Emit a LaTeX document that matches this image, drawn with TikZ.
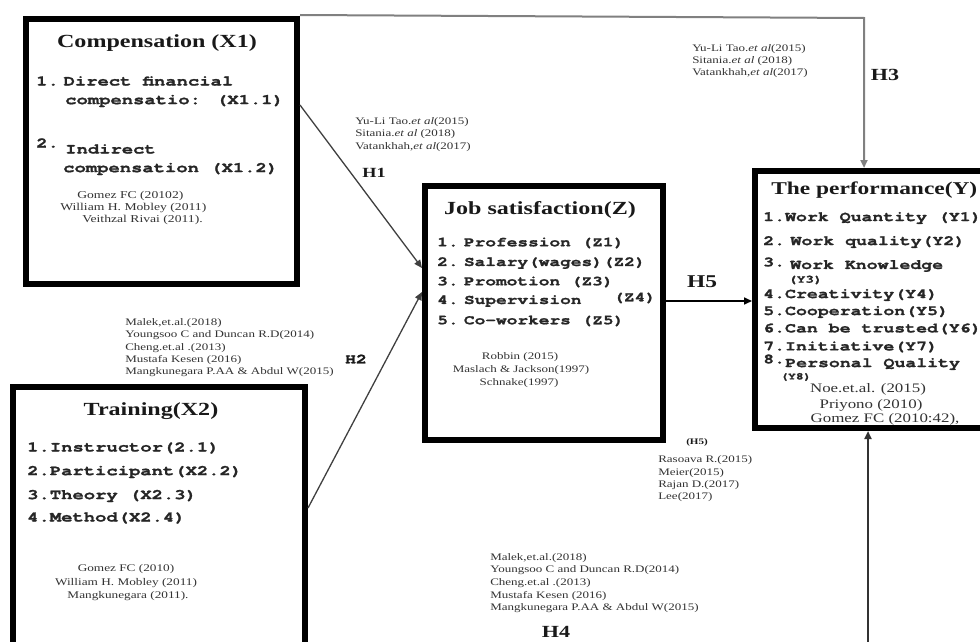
\documentclass[tikz,border=0pt]{standalone}
\usepackage{fontspec}
\setmainfont{Liberation Serif}
\newfontfamily\monofam{texgyrecursor}[Extension=.otf, UprightFont=*-regular, BoldFont=*-bold, BoldFeatures={FakeBold=1.2}]
\usetikzlibrary{arrows.meta}
\begin{document}
\begin{tikzpicture}[x=1pt,y=-1pt,
  boxnode/.style={draw=black, line width=6pt, inner sep=0pt},
  ttl/.style={font=\bfseries\fontsize{18.5}{20}\selectfont, xscale=1.3, inner sep=0pt, text=black!90},
  itm/.style={font=\monofam\bfseries\fontsize{14.5}{16}\selectfont, xscale=1.3, inner sep=0pt, anchor=west, text=black!85},
  itmj/.style={itm, font=\monofam\bfseries\fontsize{13.7}{15}\selectfont},
  itmp/.style={itm, font=\monofam\bfseries\fontsize{14}{15}\selectfont},
  cit/.style={font=\fontsize{10}{12}\selectfont, xscale=1.3, inner sep=0pt, anchor=west, text=black!80},
  citc/.style={cit, anchor=center},
  citp/.style={citc, font=\fontsize{13}{15}\selectfont},
  hlab/.style={font=\bfseries\fontsize{17}{19}\selectfont, xscale=1.3, inner sep=0pt, text=black!90},
  conn/.style={line width=1.3pt, draw=black!75, -{Triangle[length=8pt,width=7pt]}},
]
\useasboundingbox (0,0) rectangle (980,642);
\clip (0,0) rectangle (980,642);
\fill[white] (0,0) rectangle (980,642);

% ---------- boxes ----------
\node[boxnode, minimum width=271pt, minimum height=265pt] (comp) at (161.5,151.5) {};
\node[boxnode, minimum width=238pt, minimum height=254pt] (job) at (544,313) {};
\node[boxnode, minimum width=260pt, minimum height=257pt] (perf) at (885,299.5) {};
\node[boxnode, minimum width=292pt, minimum height=273pt] (train) at (159,523.5) {};

% ---------- Compensation ----------
\node[ttl] (compT) at (157,43) {Compensation (X1)};
\node[itm] (c11) at (36,81) {1.\kern0.25em Direct financial};
\node[itm] (c12) at (65,101) {compensatio: (X1.1)};
\node[itm] (c2n) at (36,143) {2.};
\node[itm] (c21) at (65,149) {Indirect};
\node[itm] (c22) at (63,169) {compensation (X1.2)};
\node[cit, font=\fontsize{10.5}{12}\selectfont] (cr1) at (77,196) {Gomez FC (20102)};
\node[cit, font=\fontsize{10.5}{12}\selectfont] (cr2) at (60,208) {William H. Mobley (2011)};
\node[cit, font=\fontsize{10.5}{12}\selectfont] (cr3) at (82,220) {Veithzal Rivai (2011).};

% ---------- Training ----------
\node[ttl] (trT) at (151,411) {Training(X2)};
\node[itm] (t1) at (27,448) {1.Instructor(2.1)};
\node[itm] (t2) at (27,472) {2.Participant(X2.2)};
\node[itm] (t3) at (27,496) {3.Theory (X2.3)};
\node[itm] (t4) at (27,518) {4.Method(X2.4)};
\node[citc, font=\fontsize{10.2}{12}\selectfont] (tr1) at (126,569) {Gomez FC (2010)};
\node[citc, font=\fontsize{10.2}{12}\selectfont] (tr2) at (126,583) {William H. Mobley (2011)};
\node[citc, font=\fontsize{10.2}{12}\selectfont] (tr3) at (128,596) {Mangkunegara (2011).};

% ---------- Job satisfaction ----------
\node[ttl] (jobT) at (540,210) {Job satisfaction(Z)};
\node[itmj] (z1) at (437,243) {1.\kern0.3em Profession (Z1)};
\node[itmj] (z2) at (437,263) {2.\kern0.3em Salary(wages)(Z2)};
\node[itmj] (z3) at (437,282) {3.\kern0.3em Promotion  (Z3)};
\node[itmj] (z4) at (437,301) {4.\kern0.3em Supervision};
\node[itmj] (z4b) at (613,298) {(Z4)};
\node[itmj] (z5) at (437,321) {5.\kern0.3em Co-workers (Z5)};
\node[citc] (jr1) at (520,357) {Robbin (2015)};
\node[citc] (jr2) at (521,370) {Maslach \& Jackson(1997)};
\node[citc] (jr3) at (519,383) {Schnake(1997)};

% ---------- Performance ----------
\node[ttl, anchor=west, font=\bfseries\fontsize{18}{20}\selectfont] (perfT) at (771,190) {The performance(Y)};
\node[itmp] (y1) at (763,218) {1.Work Quantity (Y1)};
\node[itmp] (y2) at (763,242) {2.\kern0.3em Work quality(Y2)};
\node[itmp] (y3n) at (763,262) {3.};
\node[itmp] (y3) at (790,266) {Work Knowledge};
\node[itmp, font=\monofam\bfseries\fontsize{11}{12}\selectfont] (y3b) at (788,280) {(Y3)};
\node[itmp] (y4) at (763,295) {4.Creativity(Y4)};
\node[itmp] (y5) at (763,312) {5.Cooperation(Y5)};
\node[itmp] (y6) at (763,329) {6.Can be trusted(Y6)};
\node[itmp] (y7) at (763,347) {7.Initiative(Y7)};
\node[itmp] (y8n) at (763,359) {8.};
\node[itmp] (y8) at (785,364) {Personal Quality};
\node[itmp, font=\monofam\bfseries\fontsize{10}{12}\selectfont] (y8b) at (780,377) {(Y8)};
\node[citp] (pr1) at (868,389) {Noe.et.al. (2015)};
\node[citp] (pr2) at (871,405) {Priyono (2010)};
\node[citp] (pr3) at (885,419) {Gomez FC (2010:42),};

% ---------- citation groups ----------
\node[cit] (h1a) at (355,122) {Yu-Li Tao.\textit{et al}(2015)};
\node[cit] (h1b) at (355,134) {Sitania.\textit{et al} (2018)};
\node[cit] (h1c) at (355,147) {Vatankhah,\textit{et al}(2017)};

\node[cit] (h3a) at (692,49) {Yu-Li Tao.\textit{et al}(2015)};
\node[cit] (h3b) at (692,61) {Sitania.\textit{et al} (2018)};
\node[cit] (h3c) at (692,73) {Vatankhah,\textit{et al}(2017)};

\node[cit] (h2a) at (125,323) {Malek,et.al.(2018)};
\node[cit] (h2b) at (125,335) {Youngsoo C and Duncan R.D(2014)};
\node[cit] (h2c) at (125,348) {Cheng.et.al .(2013)};
\node[cit] (h2d) at (125,360) {Mustafa Kesen (2016)};
\node[cit] (h2e) at (125,372) {Mangkunegara P.AA \& Abdul W(2015)};

\node[cit] (h5a) at (658,460) {Rasoava R.(2015)};
\node[cit] (h5b) at (658,473) {Meier(2015)};
\node[cit] (h5c) at (658,485) {Rajan D.(2017)};
\node[cit] (h5d) at (658,497) {Lee(2017)};

\node[cit] (h4a) at (490,558) {Malek,et.al.(2018)};
\node[cit] (h4b) at (490,570) {Youngsoo C and Duncan R.D(2014)};
\node[cit] (h4c) at (490,583) {Cheng.et.al .(2013)};
\node[cit] (h4d) at (490,596) {Mustafa Kesen (2016)};
\node[cit] (h4e) at (490,608) {Mangkunegara P.AA \& Abdul W(2015)};

% ---------- hypothesis labels ----------
\node[hlab, font=\bfseries\fontsize{14}{16}\selectfont] (H1) at (374,173) {H1};
\node[hlab, font=\monofam\bfseries\fontsize{14}{15}\selectfont] (H2) at (356,359) {H2};
\node[hlab] (H3) at (885,75) {H3};
\node[hlab] (H4) at (556,632) {H4};
\node[hlab, font=\bfseries\fontsize{18}{20}\selectfont] (H5) at (702,282) {H5};
\node[hlab, font=\bfseries\fontsize{8.5}{10}\selectfont] (H5b) at (697,442) {(H5)};

% ---------- connectors ----------
\coordinate (h3corner) at (864,18);
\coordinate (h4foot) at (868,660);
\draw[conn, draw=black!50, line width=2pt] ([yshift=1pt]comp.north east) -- (h3corner) -- (h3corner |- perf.north);
\draw[conn] ([yshift=46.5pt]comp.east) -- ([yshift=45pt]job.west);
\draw[conn] ([yshift=15.5pt]train.east) -- ([yshift=21pt]job.west);
\draw[conn, draw=black, line width=1.6pt] ([yshift=12pt]job.east) -- ([yshift=12pt]job.east -| perf.west);
\draw[conn, draw=black!80, line width=2pt] (h4foot) -- (h4foot |- perf.south);
\end{tikzpicture}
\end{document}
